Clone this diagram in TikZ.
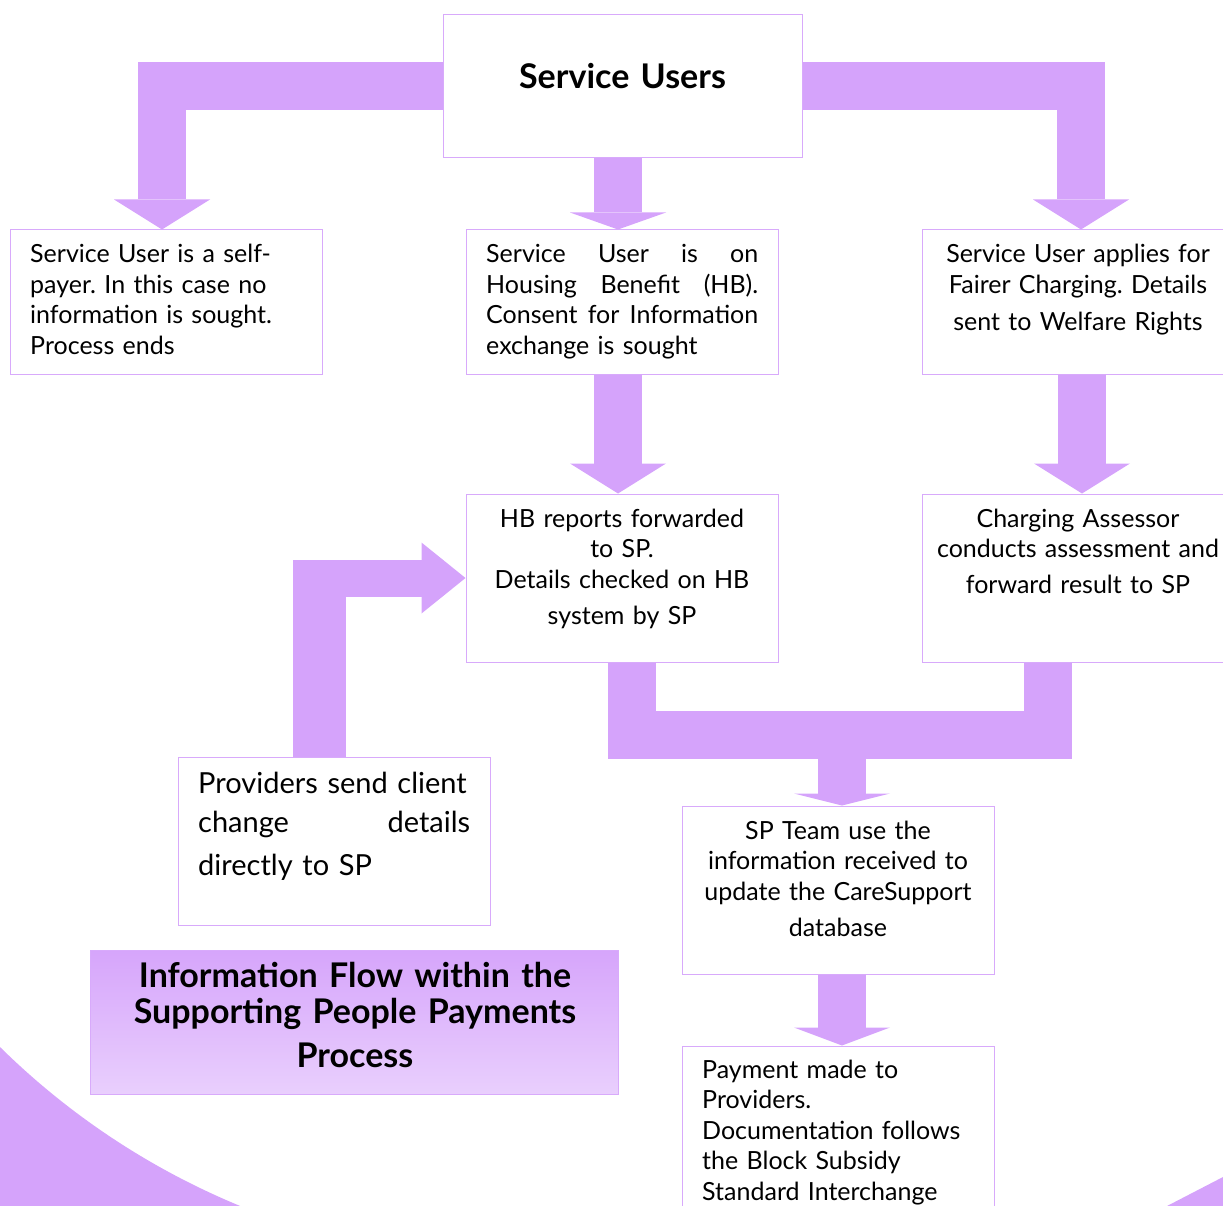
\documentclass[tikz,border=0pt]{standalone}
\usepackage{fontspec}
\setmainfont{Lato}
\frenchspacing
\usetikzlibrary{arrows.meta}
\definecolor{lilac}{HTML}{D5A3FB}
\definecolor{lilacline}{HTML}{D8AAFB}
\definecolor{lilactop}{HTML}{D6A5FB}
\definecolor{lilacbot}{HTML}{E9CFFD}

\begin{document}
\begin{tikzpicture}[x=1pt,y=1pt,
    infobox/.style={draw=lilacline,fill=white,line width=1pt,inner sep=0pt,minimum width=312pt,minimum height=#1},
    infobox/.default=144pt,
    body/.style={inner sep=0pt,text width=#1,font=\fontsize{25}{30.5}\selectfont},
    body/.default=300pt,
    big/.style={inner sep=0pt,text width=272pt,font=\fontsize{29}{39}\selectfont},
    heading/.style={inner sep=0pt,text width=#1,align=center,font=\bfseries\fontsize{34}{36.5}\selectfont},
    heading/.default=520pt,
    band/.style={draw=lilac,line width=48pt},
    flow/.style={band,-{Triangle[width=96pt,length=#1,line width'=0pt]}},
    flow/.default=30pt]

    \useasboundingbox (0,0) rectangle (1223,-1206);
    \clip (0,0) rectangle (1223,-1206);

    \fill[lilac] (0,-1206) -- (0,-1047) arc[start angle=225.4,end angle=247.6,radius=748] -- cycle;
    \fill[lilac] (1167,-1206) -- (1223,-1177) -- (1223,-1206) -- cycle;

    \node[infobox=143pt,minimum width=359pt] (su) at (622.5,-86.5) {};
    \node[infobox] (self) at (166,-302) {};
    \node[infobox] (hb) at (622,-302) {};
    \node[infobox] (fair) at (1078,-302) {};
    \node[infobox=168pt] (hbr) at (622,-578) {};
    \node[infobox=168pt] (ca) at (1078,-578) {};
    \node[infobox=168pt] (prov) at (334,-841) {};
    \node[infobox=168pt] (spt) at (838,-890) {};
    \node[infobox=200pt] (pay) at (838,-1146) {};
    \node[draw=lilacline,line width=1pt,top color=lilactop,bottom color=lilacbot,
          minimum width=528pt,minimum height=144pt,inner sep=0pt] (title) at (354,-1022) {};

    \node[heading=340pt,anchor=base] (sutxt) at (622.5,-89) {Service Users};
    \node[body,anchor=base west,align=left] (selftxt) at (30,-263)
        {Service User is a self-\\payer. In this case no\\information is sought.\\Process ends};
    \node[body=272pt,anchor=base west,align=left] (hbtxt) at (486,-263)
        {Service\hfill User\hfill is\hfill on\\Housing\hfill Benefit\hfill (HB).\\Consent\hfill for\hfill Information\\exchange is sought};
    \node[body=312pt,anchor=base,align=center] (fairtxt) at (1078,-263)
        {Service User applies for\\Fairer Charging. Details\\[6pt]sent to Welfare Rights};
    \node[body=312pt,anchor=base,align=center] (hbrtxt) at (622,-527)
        {HB reports forwarded\\to SP.\\Details checked on HB\\[6pt]system by SP};
    \node[body=312pt,anchor=base,align=center] (catxt) at (1078,-527)
        {Charging Assessor\\conducts assessment and\\[5pt]forward result to SP};
    \node[big,anchor=base west,align=left] (provtxt) at (198,-793)
        {Providers send client\\change\hfill details\\[4pt]directly to SP};
    \node[body=312pt,anchor=base,align=center] (spttxt) at (838,-839)
        {SP Team use the\\information received to\\update the CareSupport\\[6pt]database};
    \node[body,anchor=base west,align=left] (paytxt) at (702,-1078)
        {Payment made to\\Providers.\\Documentation follows\\the Block Subsidy\\Standard Interchange};
    \node[heading,anchor=base] (titletxt) at (355,-987)
        {Information Flow within the\\Supporting People Payments\\[7pt]Process};

    \draw[flow] (su.west) -| ([xshift=-4pt]self.north);
    \draw[flow=17pt] ([xshift=-4.5pt]su.south) -- ([xshift=-4pt]hb.north);
    \draw[flow] (su.east) -| ([xshift=3pt]fair.north);
    \draw[flow] ([xshift=-4pt]hb.south) -- ([xshift=-4pt]hbr.north);
    \draw[flow] ([xshift=4pt]fair.south) -- ([xshift=4pt]ca.north);

    \coordinate (join) at (842,-734.5);
    \draw[band] ([xshift=9.5pt]hbr.south) |- (join) -| ([xshift=-30pt]ca.south);
    \draw[flow=12pt] (join) -- ([xshift=4pt]spt.north);
    \draw[flow=18pt] ([xshift=4pt]spt.south) -- ([xshift=4pt]pay.north);

    \coordinate (bend) at (319.5,-578);
    \draw[band,line width=53pt] ([xshift=-14.5pt]prov.north) -- ([yshift=18.5pt]bend);
    \draw[band,line width=37pt,-{Triangle[width=71pt,length=44pt,line width'=0pt]}] ([xshift=-26.5pt]bend) -- (hbr.west);
\end{tikzpicture}
\end{document}
